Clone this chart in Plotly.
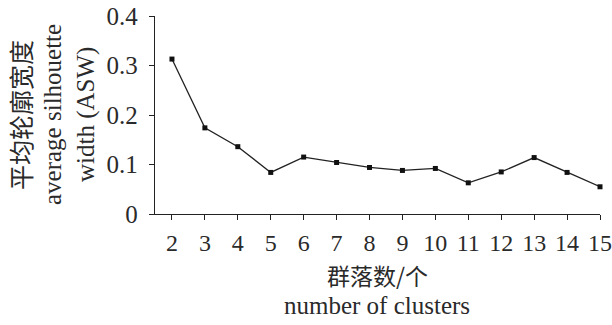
import plotly.graph_objects as go

clusters = [2, 3, 4, 5, 6, 7, 8, 9, 10, 11, 12, 13, 14, 15]
asw = [0.313, 0.174, 0.136, 0.084, 0.115, 0.104, 0.094, 0.088, 0.092, 0.063, 0.085, 0.114, 0.084, 0.055]
y_ticks = [0, 0.1, 0.2, 0.3, 0.4]
y_ticktext = ["0", "0.1", "0.2", "0.3", "0.4"]

FONT = "Liberation Serif"
CJK_FONT = "Noto Sans CJK SC"
TXT = "#2a2a2a"
W, H = 612, 325
L, R, T, B = 155, 12, 16, 111
pw, ph = W - L - R, H - T - B

def px(x):
    return (x - L) / pw

def py(y):
    return (H - B - y) / ph

fig = go.Figure()
fig.add_trace(go.Scatter(
    x=clusters, y=asw, mode="lines+markers",
    line=dict(color="#222222", width=1.3),
    marker=dict(symbol="square", size=5, color="#111111"),
    showlegend=False,
    cliponaxis=False,
))

axis_common = dict(
    showline=True, linecolor="#222222", linewidth=1.3,
    ticks="outside", ticklen=5, tickwidth=1.2, tickcolor="#222222",
    showgrid=False, zeroline=False, automargin=False,
)

fig.update_xaxes(range=[1.485, 15.0], tickvals=clusters, ticklabelstandoff=2,
                 tickfont=dict(family=FONT, size=24, color=TXT), **axis_common)
fig.update_yaxes(range=[0, 0.4], tickvals=y_ticks, ticktext=y_ticktext, ticklabelstandoff=6,
                 tickfont=dict(family=FONT, size=25, color=TXT), **axis_common)

anns = [
    dict(text="群落数/个", x=px(377), y=py(275), textangle=0, font=CJK_FONT, size=23),
    dict(text="number of clusters", x=px(377), y=py(305), textangle=0, font=FONT, size=25),
    dict(text="平均轮廓宽度", x=px(20), y=py(115), textangle=-90, font=CJK_FONT, size=25),
    dict(text="average silhouette", x=px(52), y=py(115), textangle=-90, font=FONT, size=25),
    dict(text="width (ASW)", x=px(86), y=py(115), textangle=-90, font=FONT, size=25),
]
for a in anns:
    fig.add_annotation(
        text=a["text"], x=a["x"], y=a["y"], xref="paper", yref="paper",
        xanchor="center", yanchor="middle", textangle=a["textangle"],
        showarrow=False, font=dict(family=a["font"], size=a["size"], color=TXT),
    )

fig.update_layout(
    width=W, height=H,
    margin=dict(l=L, r=R, t=T, b=B, autoexpand=False),
    paper_bgcolor="white", plot_bgcolor="white",
    font=dict(family=FONT),
)
fig.write_html("out.html", config={"displayModeBar": False},
               post_script="document.body.style.margin='0';")
